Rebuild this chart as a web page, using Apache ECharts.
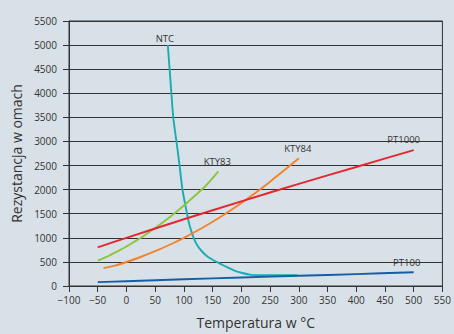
<!DOCTYPE html>
<html>
<head>
<meta charset="utf-8">
<script src="https://cdn.jsdelivr.net/npm/echarts@6/dist/echarts.min.js"></script>
<style>
  html, body { margin: 0; padding: 0; background: #d9e1e8; }
  #chart { width: 454px; height: 334px; }
</style>
</head>
<body>
<div id="chart"></div>
<script>
// values, [temperature °C, resistance Ω]
const ntc = [[72,5000],[77,4200],[81.5,3500],[87,3000],[92.5,2500],[97.5,2000],[105.5,1500],[110,1250],[117,1000],[123,850],[130,737],[142,600],[157,500],[170,420],[186,330],[200,275],[217,232],[240,222],[270,222],[298,226]];
const kty83 = [[-50,525],[-30,632],[-10,754],[0,820],[25,1000],[50,1202],[75,1425],[100,1670],[120,1882],[140,2107],[160,2380]];
const kty84 = [[-40,370],[-20,424],[0,498],[20,581],[50,722],[80,882],[100,1000],[130,1194],[160,1407],[190,1640],[220,1893],[250,2166],[280,2452],[300,2650]];
const pt1000 = [[-50,803],[0,1000],[100,1385],[200,1758],[300,2120],[400,2470],[500,2820]];
const pt100 = [[-50,80],[0,100],[100,139],[200,176],[300,212],[400,247],[500,285]];

const textColor = '#333';
const lineColor = '#333';
const font = 'Open Sans';

const series = [
    { name: 'NTC', color: '#19adb0', data: ntc, at: ntc[0], offset: [-3, 3] },
    { name: 'KTY83', color: '#8cc63f', data: kty83, at: kty83[kty83.length - 1], offset: [-1, 0] },
    { name: 'KTY84', color: '#f5822a', data: kty84, at: kty84[kty84.length - 1], offset: [-1, 0] },
    { name: 'PT1000', color: '#e6262e', data: pt1000, at: pt1000[pt1000.length - 1], offset: [-10, -1] },
    { name: 'PT100', color: '#165ca8', data: pt100, at: pt100[pt100.length - 1], offset: [-7, 0] }
].map(s => ({
    name: s.name,
    type: 'line',
    data: s.data,
    smooth: 0.3,
    showSymbol: false,
    silent: true,
    lineStyle: { color: s.color, width: 1.9 },
    // series name written next to one end of the curve
    markPoint: {
        silent: true,
        symbol: 'circle',
        symbolSize: 2,
        itemStyle: { color: 'rgba(0,0,0,0)' },
        label: {
            show: true, position: 'top', distance: 4, offset: s.offset, formatter: s.name,
            color: textColor, fontSize: 9.5, fontFamily: font
        },
        data: [{ coord: s.at }]
    }
}));

const chart = echarts.init(document.getElementById('chart'), null, { renderer: 'svg' });
chart.setOption({
    backgroundColor: '#d9e1e8',
    animation: false,
    grid: { left: 69, right: 8, top: 21, bottom: 45, show: true, borderColor: lineColor, borderWidth: 1 },
    xAxis: {
        type: 'value',
        min: -100,
        max: 550,
        interval: 50,
        name: 'Temperatura w °C',
        nameLocation: 'middle',
        nameGap: 29,
        nameTextStyle: { color: textColor, fontSize: 14, fontFamily: font },
        axisLine: { onZero: false, lineStyle: { color: lineColor, width: 1 } },
        axisTick: { show: true, length: 6, lineStyle: { color: lineColor } },
        axisLabel: {
            color: textColor, fontSize: 10, fontFamily: font, margin: 9,
            formatter: v => String(v).replace('-', '\u2212')
        },
        splitLine: { show: false }
    },
    yAxis: {
        type: 'value',
        min: 0,
        max: 5500,
        interval: 500,
        name: 'Rezystancja w omach',
        nameLocation: 'middle',
        nameGap: 43,
        nameTextStyle: { color: textColor, fontSize: 14, fontFamily: font },
        axisLine: { show: true, onZero: false, lineStyle: { color: lineColor, width: 1 } },
        axisTick: { show: true, length: 6, lineStyle: { color: lineColor } },
        axisLabel: { color: textColor, fontSize: 10, fontFamily: font, margin: 12, formatter: v => String(v) },
        splitLine: { show: true, lineStyle: { color: lineColor, width: 1 } }
    },
    series: series
});
</script>
</body>
</html>
